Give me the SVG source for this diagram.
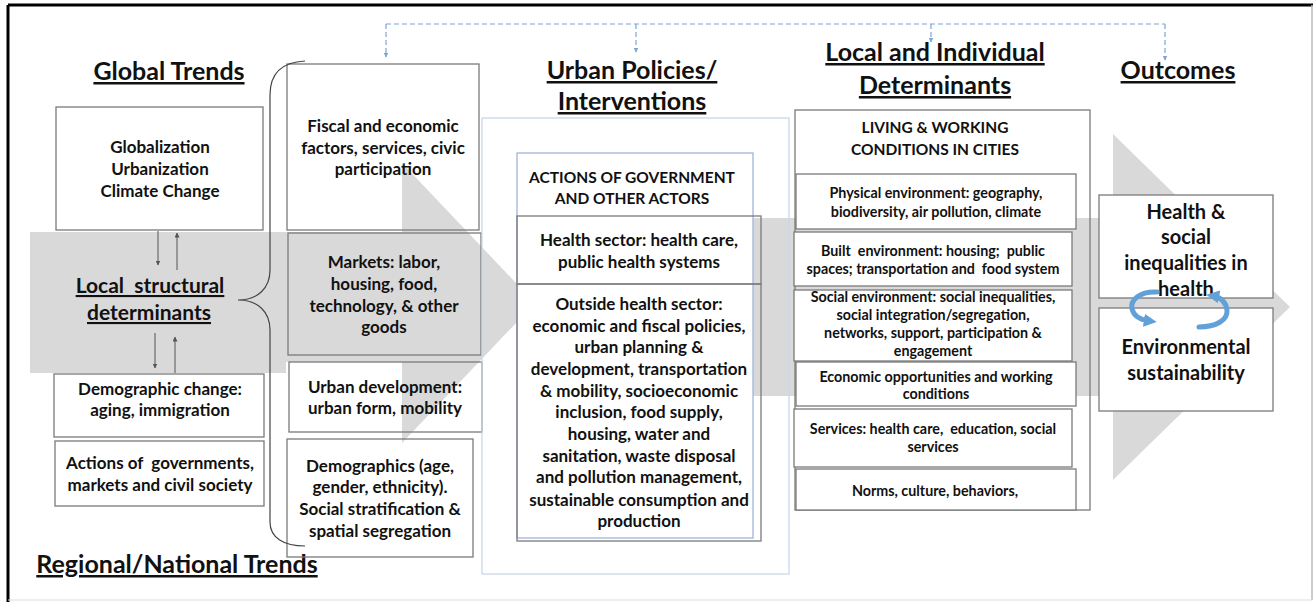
<svg xmlns="http://www.w3.org/2000/svg" width="1313" height="602" viewBox="0 0 1313 602">
<style>
text{font-family:Lato,"Open Sans","Liberation Sans",sans-serif;font-weight:bold;fill:#111;text-anchor:middle}
.t{font-size:25px;text-decoration:underline}
.b17{font-size:17px}
.b16{font-size:15.5px}
.b14{font-size:14.3px}
.b20{font-size:20px}
.box{fill:none;stroke:#7a7a7a;stroke-width:1.3}
.wbox{fill:#fff;stroke:#7a7a7a;stroke-width:1.3}
.gray{fill:#d9d9d9}
.dash{fill:none;stroke:#7fa3d6;stroke-width:1.2;stroke-dasharray:5 3}
.sm{fill:none;stroke:#555;stroke-width:1}
.circ{fill:none;stroke:#62a0d8;stroke-width:5;stroke-linecap:round}
</style>
<defs>
<marker id="ah" viewBox="0 0 10 10" refX="9" refY="5" markerWidth="5" markerHeight="5" markerUnits="userSpaceOnUse" orient="auto"><path d="M0,0 L10,5 L0,10 z" fill="#555"/></marker>
<marker id="bh" viewBox="0 0 10 10" refX="9" refY="5" markerWidth="5" markerHeight="5" markerUnits="userSpaceOnUse" orient="auto"><path d="M0,0 L10,5 L0,10 z" fill="#7fa3d6"/></marker>
<marker id="ch" viewBox="0 0 10 10" refX="4" refY="5" markerWidth="13" markerHeight="13" markerUnits="userSpaceOnUse" orient="auto"><path d="M0,0 L10,5 L0,10 z" fill="#62a0d8"/></marker>
</defs>
<rect x="0" y="0" width="1313" height="602" fill="#fff"/>
<g id="frame">
<line x1="8" y1="5" x2="1313" y2="5" stroke="#000" stroke-width="3"/>
<line x1="8" y1="5" x2="8" y2="602" stroke="#000" stroke-width="3"/>
<line x1="1312" y1="5" x2="1312" y2="600" stroke="#bbb" stroke-width="1.5"/>
<line x1="8" y1="600" x2="1312" y2="600" stroke="#ddd" stroke-width="1"/>
</g>
<g id="big-arrows">
<polygon class="gray" points="30,232 402,232 402,163 535,303 402,443 402,362 286,362 286,373 30,373"/>
<polygon class="gray" points="752,218 1113,218 1113,134 1290,307 1113,480 1113,396 752,396"/>
</g>
<g id="titles">
<text class="t" x="169" y="80">Global Trends</text>
<text class="t" x="177" y="573">Regional/National Trends</text>
<text class="t" x="632" y="79">Urban Policies/</text>
<text class="t" x="632" y="110">Interventions</text>
<text class="t" x="935" y="61">Local and Individual</text>
<text class="t" x="935" y="94">Determinants</text>
<text class="t" x="1178" y="79">Outcomes</text>
</g>
<g id="global-trends">
<rect class="wbox" x="56" y="107" width="207" height="123"/>
<text class="b17" x="160" y="153">Globalization</text>
<text class="b17" x="160" y="175">Urbanization</text>
<text class="b17" x="160" y="197">Climate Change</text>
</g>
<g id="local-structural">
<text class="t" style="font-size:21px" x="150" y="293" xml:space="preserve">Local  structural</text>
<text class="t" style="font-size:21px" x="149" y="320">determinants</text>
</g>
<g id="demographic-change">
<rect class="wbox" x="54" y="374" width="210" height="63"/>
<text class="b17" x="160" y="395">Demographic change:</text>
<text class="b17" x="160" y="416">aging, immigration</text>
</g>
<g id="actions-gov">
<rect class="wbox" x="55" y="441" width="209" height="65"/>
<text class="b17" x="160" y="469" xml:space="preserve">Actions of  governments,</text>
<text class="b17" x="160" y="491">markets and civil society</text>
</g>
<g id="fiscal">
<rect class="box" x="287" y="64" width="192" height="166"/>
<text class="b17" x="383" y="132">Fiscal and economic</text>
<text class="b17" x="383" y="154">factors, services, civic</text>
<text class="b17" x="383" y="175">participation</text>
</g>
<g id="markets">
<rect class="box" x="288" y="233" width="193" height="122"/>
<text class="b17" x="384" y="268">Markets: labor,</text>
<text class="b17" x="384" y="290">housing, food,</text>
<text class="b17" x="384" y="312">technology, &amp; other</text>
<text class="b17" x="384" y="333">goods</text>
</g>
<g id="urban-development">
<rect class="box" x="289" y="362" width="193" height="70"/>
<text class="b17" x="385" y="393">Urban development:</text>
<text class="b17" x="385" y="414">urban form, mobility</text>
</g>
<g id="demographics">
<rect class="box" x="287" y="439" width="186" height="118"/>
<text class="b17" x="380" y="472">Demographics (age,</text>
<text class="b17" x="380" y="493">gender, ethnicity).</text>
<text class="b17" x="380" y="515">Social stratification &amp;</text>
<text class="b17" x="380" y="537">spatial segregation</text>
</g>
<g id="urban-policies">
<rect x="482" y="118" width="307" height="456" fill="none" stroke="#c9d8ea" stroke-width="1.3"/>
<rect x="517" y="153" width="236" height="385" fill="#fff" stroke="#9fb6d9" stroke-width="1.3"/>
<text class="b16" x="632" y="183">ACTIONS OF GOVERNMENT</text>
<text class="b16" x="632" y="204">AND OTHER ACTORS</text>
</g>
<g id="health-sector">
<rect class="box" x="517" y="216" width="244" height="68"/>
<text class="b17" x="639" y="246">Health sector: health care,</text>
<text class="b17" x="639" y="268">public health systems</text>
</g>
<g id="outside-health">
<rect class="box" x="517" y="284" width="244" height="257"/>
<text class="b17" x="639" y="310">Outside health sector:</text>
<text class="b17" x="639" y="332">economic and fiscal policies,</text>
<text class="b17" x="639" y="353">urban planning &amp;</text>
<text class="b17" x="639" y="375">development, transportation</text>
<text class="b17" x="639" y="397">&amp; mobility, socioeconomic</text>
<text class="b17" x="639" y="418">inclusion, food supply,</text>
<text class="b17" x="639" y="440">housing, water and</text>
<text class="b17" x="639" y="462">sanitation, waste disposal</text>
<text class="b17" x="639" y="483">and pollution management,</text>
<text class="b17" x="639" y="506">sustainable consumption and</text>
<text class="b17" x="639" y="527">production</text>
</g>
<g id="living-working">
<rect class="box" x="795" y="110" width="295" height="400"/>
<text class="b16" x="935" y="133">LIVING &amp; WORKING</text>
<text class="b16" x="935" y="155">CONDITIONS IN CITIES</text>
</g>
<g id="physical-env">
<rect class="wbox" x="796" y="174" width="280" height="55"/>
<text class="b14" x="936" y="198">Physical environment: geography,</text>
<text class="b14" x="936" y="217">biodiversity, air pollution, climate</text>
</g>
<g id="built-env">
<rect class="wbox" x="794" y="232" width="278" height="54"/>
<text class="b14" x="933" y="256" xml:space="preserve">Built  environment: housing;  public</text>
<text class="b14" x="933" y="274" xml:space="preserve">spaces; transportation and  food system</text>
</g>
<g id="social-env">
<rect class="wbox" x="794" y="290" width="278" height="71"/>
<text class="b14" x="933" y="302">Social environment: social inequalities,</text>
<text class="b14" x="933" y="320">social integration/segregation,</text>
<text class="b14" x="933" y="338">networks, support, participation &amp;</text>
<text class="b14" x="933" y="356">engagement</text>
</g>
<g id="economic-opp">
<rect class="wbox" x="796" y="362" width="280" height="44"/>
<text class="b14" x="936" y="382">Economic opportunities and working</text>
<text class="b14" x="936" y="399">conditions</text>
</g>
<g id="services">
<rect class="wbox" x="794" y="409" width="278" height="58"/>
<text class="b14" x="933" y="434" xml:space="preserve">Services: health care,  education, social</text>
<text class="b14" x="933" y="452">services</text>
</g>
<g id="norms">
<rect class="wbox" x="796" y="469" width="280" height="41"/>
<text class="b14" x="935" y="496">Norms, culture, behaviors,</text>
</g>
<g id="health-outcome">
<rect class="wbox" x="1099" y="195" width="174" height="103"/>
<text class="b20" x="1186" y="219">Health &amp;</text>
<text class="b20" x="1186" y="244">social</text>
<text class="b20" x="1186" y="270">inequalities in</text>
<text class="b20" x="1186" y="296">health</text>
</g>
<g id="env-sustainability">
<rect class="wbox" x="1099" y="308" width="174" height="103"/>
<text class="b20" x="1186" y="354">Environmental</text>
<text class="b20" x="1186" y="380">sustainability</text>
</g>
<g id="connectors">
<path d="M305,61 C284,62 270,72 270,95 L270,270 C270,288 258,300 238,300 C258,300 270,312 270,330 L270,522 C270,538 284,546 305,546" fill="none" stroke="#444" stroke-width="1.2"/>
<line class="dash" x1="386" y1="24" x2="1165" y2="24"/>
<line class="dash" x1="386" y1="24" x2="386" y2="57" marker-end="url(#bh)"/>
<line class="dash" x1="636" y1="24" x2="636" y2="52" marker-end="url(#bh)"/>
<line class="dash" x1="931" y1="24" x2="931" y2="42" marker-end="url(#bh)"/>
<line class="dash" x1="1165" y1="24" x2="1165" y2="60" marker-end="url(#bh)"/>
<line class="sm" x1="158" y1="231" x2="158" y2="265" marker-end="url(#ah)"/>
<line class="sm" x1="177" y1="270" x2="177" y2="233" marker-end="url(#ah)"/>
<line class="sm" x1="155" y1="333" x2="155" y2="368" marker-end="url(#ah)"/>
<line class="sm" x1="175" y1="373" x2="175" y2="337" marker-end="url(#ah)"/>
<path class="circ" d="M1157,292 C1140,291 1130,300 1132,309 C1134,317 1142,320 1149,321" marker-end="url(#ch)"/>
<path class="circ" d="M1199,327 C1216,327 1228,320 1227,310 C1226,302 1220,297 1214,296" marker-end="url(#ch)"/>
</g>
</svg>
